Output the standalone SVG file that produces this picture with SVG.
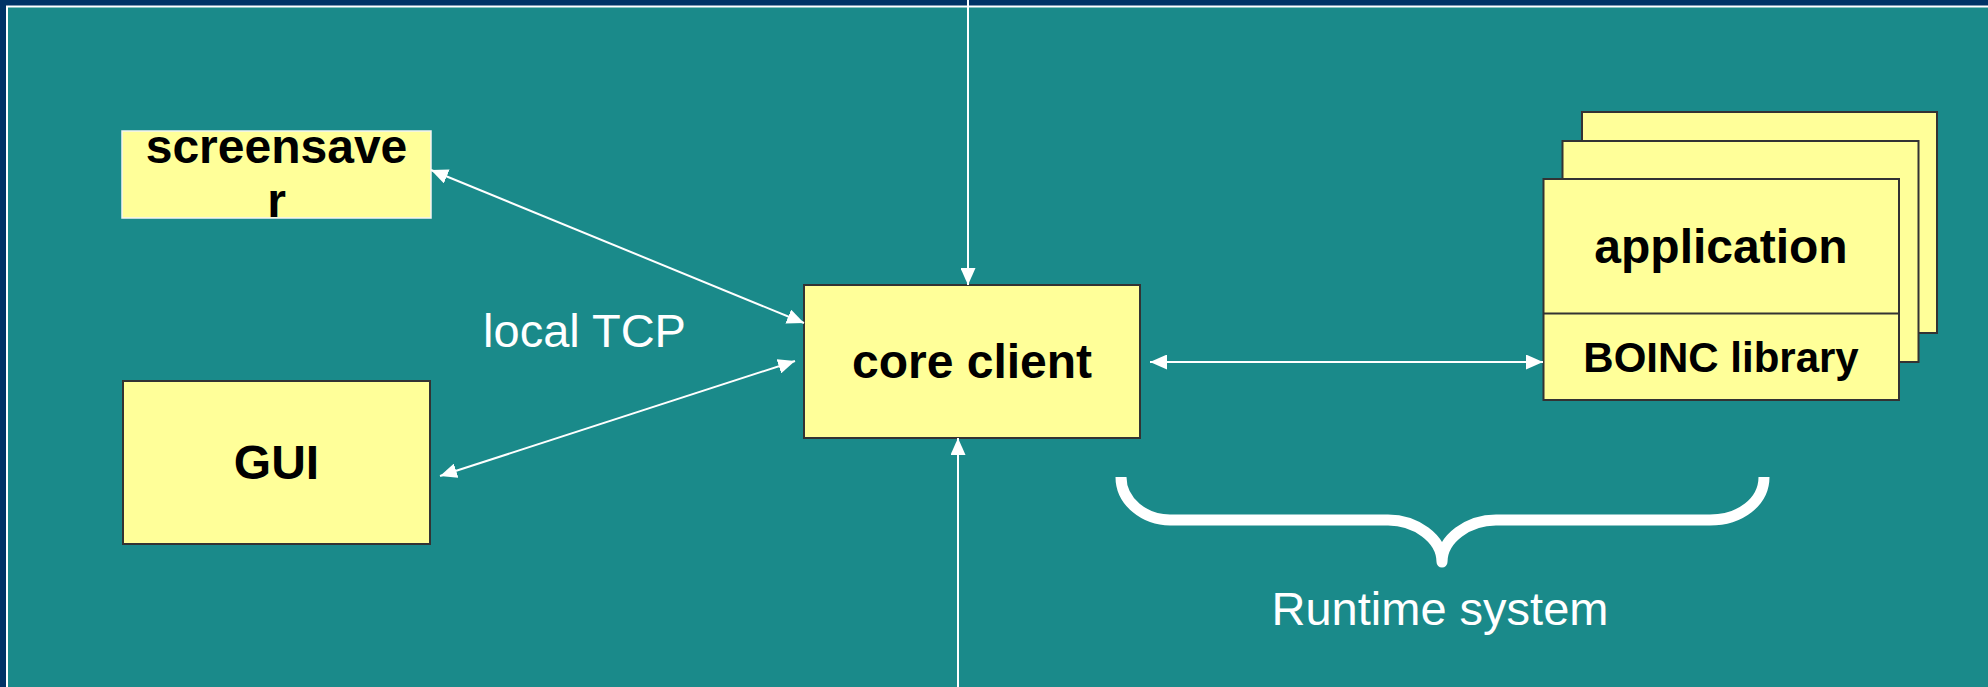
<svg xmlns="http://www.w3.org/2000/svg" width="1988" height="687" viewBox="0 0 1988 687">
<style>
.box{fill:#FFFF99;stroke:#333333;stroke-width:2}
.lbl{font-family:"Liberation Sans",Arial,sans-serif;font-weight:bold;fill:#000;text-anchor:middle}
.wt{font-family:"Liberation Sans",Arial,sans-serif;fill:#fff;text-anchor:middle;font-size:47px}
.conn{stroke:#fff;stroke-width:2;fill:none}
</style>
<defs>
<marker id="ah" markerUnits="userSpaceOnUse" markerWidth="17" markerHeight="15" refX="17" refY="7.5" orient="auto-start-reverse" viewBox="0 0 17 15">
<path d="M0,0 L17,7.5 L0,15 z" fill="#fff"/>
</marker>
</defs>
<rect x="0" y="0" width="1988" height="687" fill="#003366"/>
<rect x="7" y="6.5" width="1990" height="700" fill="#1A8A8A" stroke="#ffffff" stroke-width="2"/>

<g id="screensaver">
<rect x="122" y="131" width="309" height="87" fill="#FFFF99" stroke="#f4f4f4" stroke-width="1.5"/>
<text class="lbl" x="276.5" y="163" font-size="48">screensave</text>
<text class="lbl" x="276.5" y="217" font-size="48">r</text>
</g>

<g id="gui">
<rect class="box" x="123" y="381" width="307" height="163"/>
<text class="lbl" x="276.5" y="479" font-size="48">GUI</text>
</g>

<g id="core-client">
<rect class="box" x="804" y="285" width="336" height="153"/>
<text class="lbl" x="972" y="378" font-size="48">core client</text>
</g>

<g id="application-stack">
<rect class="box" x="1582" y="112" width="355" height="221"/>
<rect class="box" x="1562.5" y="141" width="356" height="221"/>
<rect class="box" x="1543.5" y="179" width="355.5" height="221"/>
<line x1="1543.5" y1="313.5" x2="1899" y2="313.5" stroke="#333333" stroke-width="2"/>
<text class="lbl" x="1721" y="263" font-size="48">application</text>
<text class="lbl" x="1721" y="372" font-size="42">BOINC library</text>
</g>

<g id="connectors">
<line class="conn" x1="968" y1="0" x2="968" y2="285" marker-end="url(#ah)"/>
<line class="conn" x1="958" y1="687" x2="958" y2="438" marker-end="url(#ah)"/>
<line class="conn" x1="1150" y1="362" x2="1543" y2="362" marker-start="url(#ah)" marker-end="url(#ah)"/>
<line class="conn" x1="431" y1="170" x2="804" y2="323" marker-start="url(#ah)" marker-end="url(#ah)"/>
<line class="conn" x1="440" y1="476" x2="795" y2="361" marker-start="url(#ah)" marker-end="url(#ah)"/>
</g>

<g id="runtime-brace">
<path d="M1121,477 C1121,502 1145,520 1170,520 L1388,520 C1415,520 1442,538 1442,562 C1442,538 1469,520 1496,520 L1710,520 C1740,520 1764,502 1764,477" fill="none" stroke="#fff" stroke-width="11" stroke-linejoin="round"/>
<text class="wt" x="1440" y="625">Runtime system</text>
</g>

<text class="wt" x="584.5" y="347">local TCP</text>
</svg>
